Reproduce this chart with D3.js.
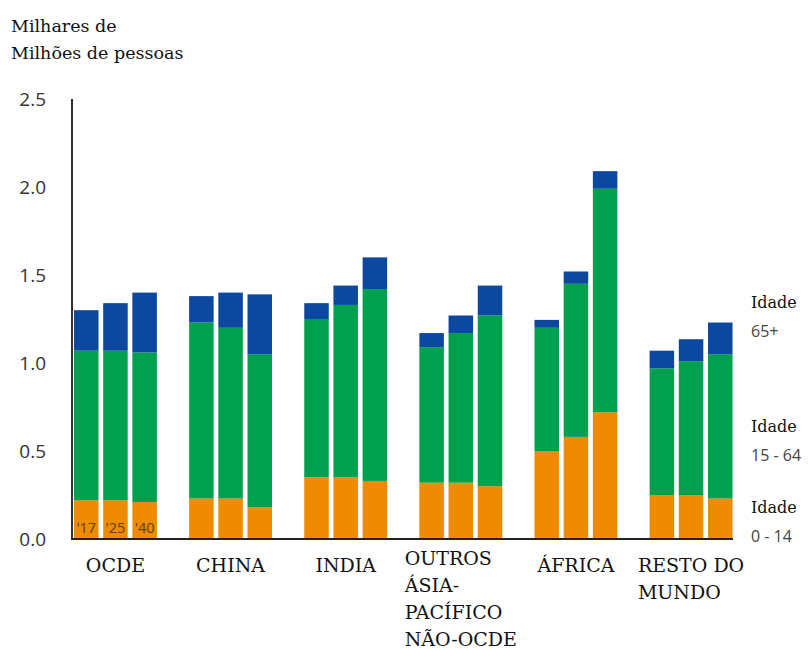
<!DOCTYPE html>
<html>
<head>
<meta charset="utf-8">
<script src="https://cdn.jsdelivr.net/npm/d3@7"></script>
<style>
  html, body { margin: 0; padding: 0; background: #fff; }
  svg { display: block; }
</style>
</head>
<body>
<div id="chart"></div>
<script>
// Population by region and age group (thousands of millions), 2017 / 2025 / 2040
const regionLines = [
  ["OCDE"],
  ["CHINA"],
  ["INDIA"],
  ["OUTROS", "ÁSIA-", "PACÍFICO", "NÃO-OCDE"],
  ["ÁFRICA"],
  ["RESTO DO", "MUNDO"]
];
const years = ["2017", "2025", "2040"];
const yearLabels = ["'17", "'25", "'40"];

const age0to14 = [
  [0.22, 0.22, 0.21],
  [0.23, 0.23, 0.18],
  [0.35, 0.35, 0.33],
  [0.32, 0.32, 0.30],
  [0.50, 0.58, 0.72],
  [0.25, 0.25, 0.23]
];
const age15to64 = [
  [0.85, 0.85, 0.85],
  [1.00, 0.97, 0.87],
  [0.90, 0.98, 1.09],
  [0.77, 0.85, 0.97],
  [0.70, 0.87, 1.27],
  [0.72, 0.76, 0.82]
];
const age65plus = [
  [0.23, 0.27, 0.34],
  [0.15, 0.20, 0.34],
  [0.09, 0.11, 0.18],
  [0.08, 0.10, 0.17],
  [0.045, 0.07, 0.10],
  [0.10, 0.125, 0.18]
];
const yTicks = [0, 0.5, 1.0, 1.5, 2.0, 2.5];

const legendItems = [
  { key: "a65", title: "Idade", range: "65+" },
  { key: "a15", title: "Idade", range: "15 - 64" },
  { key: "a0", title: "Idade", range: "0 - 14" }
];

const W = 808, H = 650;
const colors = { a0: "#ee8b00", a15: "#00a04f", a65: "#0c47a0" };
const serif = "'DejaVu Serif', 'Liberation Serif', serif";
const sans = "'Open Sans', 'Noto Sans', sans-serif";

const rows = [];
regionLines.forEach((lines, i) => {
  years.forEach((yr, j) => {
    rows.push({
      region: i, year: yr, label: yearLabels[j],
      a0: age0to14[i][j], a15: age15to64[i][j], a65: age65plus[i][j]
    });
  });
});

const svg = d3.select("#chart").append("svg")
  .attr("width", W).attr("height", H);

const x0 = d3.scaleBand()
  .domain(d3.range(regionLines.length))
  .range([74, 732.5])
  .paddingInner(0.28)
  .paddingOuter(0);

const x1 = d3.scaleBand()
  .domain(years)
  .range([0, x0.bandwidth()])
  .paddingInner(0.16);

const y = d3.scaleLinear().domain([0, 2.5]).range([539, 99]);

// Title
const title = svg.append("text")
  .attr("font-family", serif).attr("font-size", 17.5)
  .attr("fill", "#111");
title.append("tspan").attr("x", 11).attr("y", 32).text("Milhares de");
title.append("tspan").attr("x", 11).attr("y", 59).text("Milhões de pessoas");

// Stacked bars
const stack = d3.stack().keys(["a0", "a15", "a65"]);
const series = stack(rows);

svg.append("g")
  .selectAll("g")
  .data(series)
  .join("g")
  .attr("fill", d => colors[d.key])
  .selectAll("rect")
  .data(d => d)
  .join("rect")
  .attr("x", d => x0(d.data.region) + x1(d.data.year))
  .attr("width", x1.bandwidth())
  .attr("y", d => y(d[1]))
  .attr("height", d => y(d[0]) - y(d[1]));

// Year labels inside the first group's bars
svg.append("g")
  .selectAll("text")
  .data(rows.filter(r => r.region === 0))
  .join("text")
  .attr("x", d => x0(d.region) + x1(d.year) + x1.bandwidth() / 2)
  .attr("y", y(0) - 6)
  .attr("text-anchor", "middle")
  .attr("font-family", sans)
  .attr("font-size", 14.5)
  .attr("fill", "#5b4210")
  .text(d => d.label);

// Y axis
const yAxis = d3.axisLeft(y)
  .tickValues(yTicks)
  .tickFormat(d3.format(".1f"))
  .tickSize(0)
  .tickPadding(26);

const gy = svg.append("g")
  .attr("transform", "translate(72,0)")
  .call(yAxis);
gy.select(".domain").remove();
gy.selectAll("text")
  .attr("font-family", sans)
  .attr("font-size", 19)
  .attr("fill", "#333")
  .attr("dy", "0.36em");

svg.append("line")
  .attr("x1", 72).attr("x2", 72)
  .attr("y1", y(2.5)).attr("y2", y(0) + 1)
  .attr("stroke", "#333").attr("stroke-width", 2);

svg.append("line")
  .attr("x1", 71).attr("x2", 733)
  .attr("y1", y(0)).attr("y2", y(0))
  .attr("stroke", "#222").attr("stroke-width", 2);

// Region labels below the axis; tall multi-line blocks sit slightly higher
const xl = svg.append("g");
regionLines.forEach((lines, i) => {
  const cx = x0(i) + x0.bandwidth() / 2;
  const firstBaseline = lines.length > 2 ? 565 : 572;
  const t = xl.append("text")
    .attr("font-family", serif)
    .attr("font-size", 19)
    .attr("fill", "#111");
  lines.forEach((ln, k) => {
    t.append("tspan").attr("y", firstBaseline + k * 27).text(ln);
  });
  const widths = [];
  t.selectAll("tspan").each(function () { widths.push(this.getComputedTextLength()); });
  const left = cx - d3.max(widths) / 2;
  t.selectAll("tspan").attr("x", left);
});

// Legend at right
const legendY = { a65: 308, a15: 432, a0: 513 };
const lg = svg.append("g");
legendItems.forEach(item => {
  lg.append("text")
    .attr("x", 751).attr("y", legendY[item.key])
    .attr("font-family", serif).attr("font-size", 16)
    .attr("fill", "#111")
    .text(item.title);
  lg.append("text")
    .attr("x", 751).attr("y", legendY[item.key] + 29)
    .attr("font-family", sans).attr("font-size", 16)
    .attr("fill", "#444")
    .text(item.range);
});
</script>
</body>
</html>
